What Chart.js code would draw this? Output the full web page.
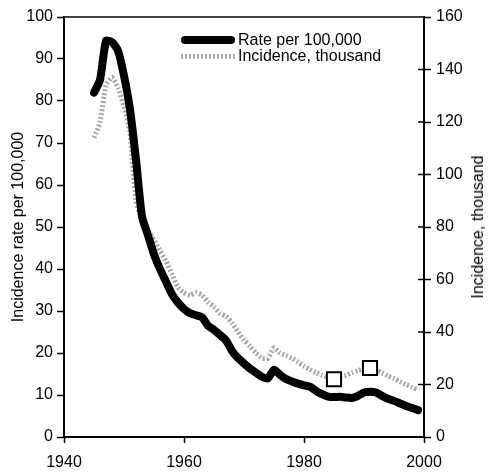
<!DOCTYPE html>
<html>
<head>
<meta charset="utf-8">
<script src="https://cdn.jsdelivr.net/npm/chart.js@4/dist/chart.umd.min.js"></script>
<style>
  html, body { margin: 0; padding: 0; background: #fff; }
  #wrap { position: relative; width: 488px; height: 475px; font-family: "Liberation Sans", Arial, sans-serif; color: #000; }
  #chart { position: absolute; left: 0; top: 0; }
  .leg-line { position: absolute; left: 181px; width: 54px; height: 8px; border-radius: 4px; }
  .leg-text { position: absolute; left: 238px; font-size: 16px; line-height: 16px; white-space: nowrap; }
  #right-title { position: absolute; left: 478px; top: 227px; font-size: 16px; white-space: nowrap;
    transform: translate(-50%, -50%) rotate(-90deg); }
</style>
</head>
<body>
<div id="wrap">
  <canvas id="chart" width="488" height="475"></canvas>
  <div class="leg-line" style="top:36px;background:#000;"></div>
  <div class="leg-text" style="top:32px;">Rate per 100,000</div>
  <div class="leg-line" style="top:54px;height:5px;border-radius:0;background:repeating-linear-gradient(90deg,#aaa 0 2px,#fff 2px 4px);"></div>
  <div class="leg-text" style="top:48px;">Incidence, thousand</div>
  <div id="right-title">Incidence, thousand</div>
</div>
<script>
// index.html chart

const years = [1945, 1946, 1947, 1948, 1949, 1950, 1951, 1952, 1953, 1954,
  1955, 1956, 1957, 1958, 1959, 1960, 1961, 1962, 1963, 1964,
  1965, 1966, 1967, 1968, 1969, 1970, 1971, 1972, 1973, 1974,
  1975, 1976, 1977, 1978, 1979, 1980, 1981, 1982, 1983, 1984,
  1985, 1986, 1987, 1988, 1989, 1990, 1991, 1992, 1993, 1994,
  1995, 1996, 1997, 1998, 1999];

// rate per 100,000 (left axis)
const rate = [82, 85, 94.3, 94, 92, 86, 78, 66, 52.5, 48,
  43.5, 40, 37, 34, 32, 30.5, 29.5, 29, 28.5, 26.5,
  25.5, 24.3, 23, 20.5, 18.8, 17.5, 16.3, 15.3, 14.3, 14,
  16, 14.8, 13.8, 13.2, 12.7, 12.3, 12, 11, 10.2, 9.6,
  9.5, 9.6, 9.4, 9.3, 9.8, 10.6, 10.8, 10.6, 9.8, 9.1,
  8.6, 8.0, 7.4, 6.9, 6.4];

// incidence, thousand (right axis)
const incidence = [114, 120, 134, 137, 133, 126, 116, 90, 83, 79,
  75, 71, 67, 62, 57, 55, 54, 55, 54, 51.5,
  49.5, 47, 46, 43.5, 40, 37, 34.5, 32, 30, 30,
  34, 32, 31, 30, 28.5, 27, 25.7, 24.5, 23.5, 22.7,
  22.5, 23, 23.5, 24.5, 25.3, 26, 26.2, 25.7, 24.5, 23.3,
  22.3, 21, 20, 19, 18];

const markYears = [1985, 1991];
const markValues = [22, 26.3];

const xTicks = [1940, 1960, 1980, 2000];
const leftTicks = [0, 10, 20, 30, 40, 50, 60, 70, 80, 90, 100];
const rightTicks = [0, 20, 40, 60, 80, 100, 120, 140, 160];

const FONT = { family: '"Liberation Sans", Arial, sans-serif', size: 16 };

const framePlugin = {
  id: 'frame',
  afterDraw(chart) {
    const { ctx, chartArea } = chart;
    const y2 = chart.scales.y2;
    ctx.save();
    ctx.strokeStyle = '#000';
    ctx.lineWidth = 1.5;
    ctx.beginPath();
    ctx.moveTo(chartArea.left, chartArea.top);
    ctx.lineTo(chartArea.right, chartArea.top);
    rightTicks.forEach(v => {
      const py = y2.getPixelForValue(v);
      ctx.moveTo(chartArea.right - 6, py);
      ctx.lineTo(chartArea.right, py);
    });
    ctx.stroke();
    ctx.restore();
  }
};

new Chart(document.getElementById('chart'), {
  type: 'line',
  data: {
    datasets: [
      {
        type: 'scatter',
        data: markYears.map((x, i) => ({ x, y: markValues[i] })),
        yAxisID: 'y2',
        pointStyle: 'rect',
        pointRadius: 10,
        pointBackgroundColor: '#fff',
        pointBorderColor: '#000',
        pointBorderWidth: 2,
        order: 0
      },
      {
        data: years.map((x, i) => ({ x, y: rate[i] })),
        yAxisID: 'y',
        borderColor: '#000',
        borderWidth: 8,
        borderCapStyle: 'round',
        borderJoinStyle: 'round',
        pointRadius: 0,
        tension: 0.2,
        order: 1
      },
      {
        data: years.map((x, i) => ({ x, y: incidence[i] })),
        yAxisID: 'y2',
        borderColor: '#a8a8a8',
        borderWidth: 5,
        borderDash: [2, 2],
        pointRadius: 0,
        tension: 0.2,
        order: 2
      }
    ]
  },
  options: {
    responsive: false,
    animation: false,
    layout: { padding: { top: 17, left: 0, right: 0, bottom: 0 } },
    plugins: { legend: { display: false }, tooltip: { enabled: false } },
    scales: {
      x: {
        type: 'linear',
        min: 1940,
        max: 2000,
        afterBuildTicks: s => { s.ticks = xTicks.map(v => ({ value: v })); },
        afterFit: s => { s.height = 38; },
        grid: { drawOnChartArea: false, tickLength: 6, color: '#000', tickWidth: 1.5 },
        border: { color: '#000', width: 2 },
        ticks: { color: '#000', font: FONT, padding: 10, maxRotation: 0, callback: v => String(v) }
      },
      y: {
        position: 'left',
        min: 0,
        max: 100,
        afterBuildTicks: s => { s.ticks = leftTicks.map(v => ({ value: v })); },
        afterFit: s => { s.width = 64; },
        grid: { drawOnChartArea: false, tickLength: 7, color: '#000', tickWidth: 1.5 },
        border: { color: '#000', width: 2 },
        ticks: { color: '#000', font: FONT, padding: 4 },
        title: { display: true, text: 'Incidence rate per 100,000', color: '#000', font: FONT, padding: { top: 9, bottom: 0 } }
      },
      y2: {
        position: 'right',
        min: 0,
        max: 160,
        afterBuildTicks: s => { s.ticks = rightTicks.map(v => ({ value: v })); },
        afterFit: s => { s.width = 64; },
        grid: { drawOnChartArea: false, tickLength: 7, color: '#000', tickWidth: 1.5 },
        border: { color: '#000', width: 2 },
        ticks: { color: '#000', font: FONT, padding: 5 }
      }
    }
  },
  plugins: [framePlugin]
});
</script>
</body>
</html>
